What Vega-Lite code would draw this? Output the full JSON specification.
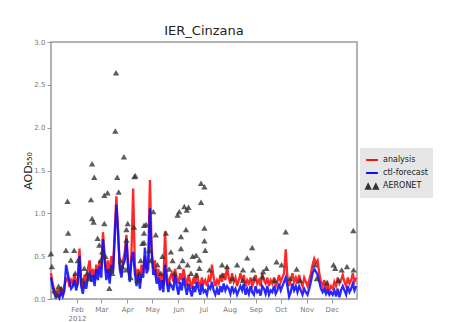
{
  "$schema": "https://vega.github.io/schema/vega-lite/v6.json",
  "width": 306,
  "height": 257,
  "autosize": {"type": "none"},
  "padding": {"left": 51, "top": 42, "right": 97, "bottom": 23},
  "background": "white",
  "title": {"text": "IER_Cinzana", "fontSize": 13, "fontWeight": "normal", "color": "#222", "offset": 0, "font": "DejaVu Sans"},
  "config": {
    "font": "DejaVu Sans",
    "view": {"stroke": "#999", "strokeWidth": 1.5},
    "axis": {"grid": false, "labelColor": "#777", "labelFontSize": 7, "tickColor": "#999", "domainColor": "#999", "titleColor": "#222"}
  },
  "datasets": {
    "lines": [
      {"d":1,"analysis":0.30,"ctl-forecast":0.25},{"d":3,"analysis":0.18,"ctl-forecast":0.14},{"d":5,"analysis":0.10,"ctl-forecast":0.06},{"d":7,"analysis":0.04,"ctl-forecast":0.02},{"d":9,"analysis":0.12,"ctl-forecast":0.05},{"d":11,"analysis":0.03,"ctl-forecast":0.01},{"d":13,"analysis":0.14,"ctl-forecast":0.08},{"d":15,"analysis":0.05,"ctl-forecast":0.03},{"d":17,"analysis":0.16,"ctl-forecast":0.10},{"d":19,"analysis":0.22,"ctl-forecast":0.40},{"d":21,"analysis":0.25,"ctl-forecast":0.30},{"d":23,"analysis":0.14,"ctl-forecast":0.20},{"d":25,"analysis":0.22,"ctl-forecast":0.12},{"d":27,"analysis":0.18,"ctl-forecast":0.15},{"d":29,"analysis":0.30,"ctl-forecast":0.22},{"d":31,"analysis":0.15,"ctl-forecast":0.10},{"d":33,"analysis":0.25,"ctl-forecast":0.18},{"d":35,"analysis":0.59,"ctl-forecast":0.50},{"d":37,"analysis":0.20,"ctl-forecast":0.15},{"d":39,"analysis":0.12,"ctl-forecast":0.06},{"d":41,"analysis":0.28,"ctl-forecast":0.20},{"d":43,"analysis":0.20,"ctl-forecast":0.12},{"d":45,"analysis":0.35,"ctl-forecast":0.25},{"d":47,"analysis":0.45,"ctl-forecast":0.30},{"d":49,"analysis":0.25,"ctl-forecast":0.20},{"d":51,"analysis":0.35,"ctl-forecast":0.28},{"d":53,"analysis":0.22,"ctl-forecast":0.15},{"d":55,"analysis":0.40,"ctl-forecast":0.35},{"d":57,"analysis":0.30,"ctl-forecast":0.22},{"d":59,"analysis":0.45,"ctl-forecast":0.38},{"d":61,"analysis":0.35,"ctl-forecast":0.25},{"d":63,"analysis":0.78,"ctl-forecast":0.70},{"d":65,"analysis":0.50,"ctl-forecast":0.45},{"d":67,"analysis":0.30,"ctl-forecast":0.22},{"d":69,"analysis":0.45,"ctl-forecast":0.35},{"d":71,"analysis":0.25,"ctl-forecast":0.18},{"d":73,"analysis":0.50,"ctl-forecast":0.40},{"d":75,"analysis":0.35,"ctl-forecast":0.30},{"d":77,"analysis":0.80,"ctl-forecast":0.70},{"d":79,"analysis":1.20,"ctl-forecast":1.10},{"d":81,"analysis":0.75,"ctl-forecast":0.80},{"d":83,"analysis":0.40,"ctl-forecast":0.35},{"d":85,"analysis":0.30,"ctl-forecast":0.25},{"d":87,"analysis":0.45,"ctl-forecast":0.40},{"d":89,"analysis":0.55,"ctl-forecast":0.45},{"d":91,"analysis":0.75,"ctl-forecast":0.70},{"d":93,"analysis":0.40,"ctl-forecast":0.35},{"d":95,"analysis":0.25,"ctl-forecast":0.20},{"d":97,"analysis":0.55,"ctl-forecast":0.45},{"d":99,"analysis":1.29,"ctl-forecast":0.55},{"d":101,"analysis":0.40,"ctl-forecast":0.30},{"d":103,"analysis":0.25,"ctl-forecast":0.15},{"d":105,"analysis":0.35,"ctl-forecast":0.28},{"d":107,"analysis":0.20,"ctl-forecast":0.12},{"d":109,"analysis":0.40,"ctl-forecast":0.30},{"d":111,"analysis":0.30,"ctl-forecast":0.25},{"d":113,"analysis":0.50,"ctl-forecast":0.60},{"d":115,"analysis":0.35,"ctl-forecast":0.30},{"d":117,"analysis":0.45,"ctl-forecast":0.35},{"d":119,"analysis":1.39,"ctl-forecast":1.06},{"d":121,"analysis":0.60,"ctl-forecast":0.55},{"d":123,"analysis":0.35,"ctl-forecast":0.28},{"d":125,"analysis":0.45,"ctl-forecast":0.35},{"d":127,"analysis":0.25,"ctl-forecast":0.18},{"d":129,"analysis":0.35,"ctl-forecast":0.25},{"d":131,"analysis":0.20,"ctl-forecast":0.10},{"d":133,"analysis":0.30,"ctl-forecast":0.22},{"d":135,"analysis":0.15,"ctl-forecast":0.08},{"d":137,"analysis":0.79,"ctl-forecast":0.40},{"d":139,"analysis":0.30,"ctl-forecast":0.20},{"d":141,"analysis":0.15,"ctl-forecast":0.08},{"d":143,"analysis":0.25,"ctl-forecast":0.18},{"d":145,"analysis":0.30,"ctl-forecast":0.15},{"d":147,"analysis":0.20,"ctl-forecast":0.10},{"d":149,"analysis":0.35,"ctl-forecast":0.28},{"d":151,"analysis":0.25,"ctl-forecast":0.15},{"d":153,"analysis":0.18,"ctl-forecast":0.05},{"d":155,"analysis":0.30,"ctl-forecast":0.20},{"d":157,"analysis":0.22,"ctl-forecast":0.10},{"d":159,"analysis":0.35,"ctl-forecast":0.25},{"d":161,"analysis":0.25,"ctl-forecast":0.15},{"d":163,"analysis":0.15,"ctl-forecast":0.05},{"d":165,"analysis":0.28,"ctl-forecast":0.18},{"d":167,"analysis":0.20,"ctl-forecast":0.10},{"d":169,"analysis":0.12,"ctl-forecast":0.03},{"d":171,"analysis":0.25,"ctl-forecast":0.15},{"d":173,"analysis":0.18,"ctl-forecast":0.08},{"d":175,"analysis":0.30,"ctl-forecast":0.20},{"d":177,"analysis":0.20,"ctl-forecast":0.12},{"d":179,"analysis":0.15,"ctl-forecast":0.05},{"d":181,"analysis":0.25,"ctl-forecast":0.18},{"d":183,"analysis":0.18,"ctl-forecast":0.08},{"d":185,"analysis":0.22,"ctl-forecast":0.10},{"d":187,"analysis":0.15,"ctl-forecast":0.05},{"d":189,"analysis":0.25,"ctl-forecast":0.15},{"d":191,"analysis":0.20,"ctl-forecast":0.12},{"d":193,"analysis":0.40,"ctl-forecast":0.20},{"d":195,"analysis":0.25,"ctl-forecast":0.10},{"d":197,"analysis":0.15,"ctl-forecast":0.05},{"d":199,"analysis":0.22,"ctl-forecast":0.12},{"d":201,"analysis":0.18,"ctl-forecast":0.05},{"d":203,"analysis":0.28,"ctl-forecast":0.15},{"d":205,"analysis":0.20,"ctl-forecast":0.08},{"d":207,"analysis":0.30,"ctl-forecast":0.18},{"d":209,"analysis":0.22,"ctl-forecast":0.10},{"d":211,"analysis":0.38,"ctl-forecast":0.15},{"d":213,"analysis":0.25,"ctl-forecast":0.12},{"d":215,"analysis":0.18,"ctl-forecast":0.06},{"d":217,"analysis":0.30,"ctl-forecast":0.15},{"d":219,"analysis":0.20,"ctl-forecast":0.08},{"d":221,"analysis":0.25,"ctl-forecast":0.12},{"d":223,"analysis":0.15,"ctl-forecast":0.05},{"d":225,"analysis":0.22,"ctl-forecast":0.10},{"d":227,"analysis":0.30,"ctl-forecast":0.15},{"d":229,"analysis":0.20,"ctl-forecast":0.10},{"d":231,"analysis":0.28,"ctl-forecast":0.18},{"d":233,"analysis":0.15,"ctl-forecast":0.05},{"d":235,"analysis":0.22,"ctl-forecast":0.12},{"d":237,"analysis":0.18,"ctl-forecast":0.06},{"d":239,"analysis":0.25,"ctl-forecast":0.15},{"d":241,"analysis":0.15,"ctl-forecast":0.08},{"d":243,"analysis":0.20,"ctl-forecast":0.05},{"d":245,"analysis":0.28,"ctl-forecast":0.15},{"d":247,"analysis":0.18,"ctl-forecast":0.08},{"d":249,"analysis":0.22,"ctl-forecast":0.10},{"d":251,"analysis":0.15,"ctl-forecast":0.04},{"d":253,"analysis":0.30,"ctl-forecast":0.15},{"d":255,"analysis":0.22,"ctl-forecast":0.12},{"d":257,"analysis":0.18,"ctl-forecast":0.06},{"d":259,"analysis":0.25,"ctl-forecast":0.15},{"d":261,"analysis":0.15,"ctl-forecast":0.05},{"d":263,"analysis":0.22,"ctl-forecast":0.10},{"d":265,"analysis":0.18,"ctl-forecast":0.08},{"d":267,"analysis":0.25,"ctl-forecast":0.15},{"d":269,"analysis":0.15,"ctl-forecast":0.06},{"d":271,"analysis":0.20,"ctl-forecast":0.10},{"d":273,"analysis":0.28,"ctl-forecast":0.18},{"d":275,"analysis":0.20,"ctl-forecast":0.10},{"d":277,"analysis":0.25,"ctl-forecast":0.15},{"d":279,"analysis":0.30,"ctl-forecast":0.20},{"d":281,"analysis":0.58,"ctl-forecast":0.25},{"d":283,"analysis":0.25,"ctl-forecast":0.15},{"d":285,"analysis":0.15,"ctl-forecast":0.03},{"d":287,"analysis":0.22,"ctl-forecast":0.08},{"d":289,"analysis":0.30,"ctl-forecast":0.18},{"d":291,"analysis":0.20,"ctl-forecast":0.10},{"d":293,"analysis":0.25,"ctl-forecast":0.15},{"d":295,"analysis":0.18,"ctl-forecast":0.08},{"d":297,"analysis":0.28,"ctl-forecast":0.15},{"d":299,"analysis":0.20,"ctl-forecast":0.10},{"d":301,"analysis":0.15,"ctl-forecast":0.05},{"d":303,"analysis":0.25,"ctl-forecast":0.12},{"d":305,"analysis":0.20,"ctl-forecast":0.08},{"d":307,"analysis":0.15,"ctl-forecast":0.05},{"d":309,"analysis":0.22,"ctl-forecast":0.12},{"d":311,"analysis":0.30,"ctl-forecast":0.20},{"d":313,"analysis":0.40,"ctl-forecast":0.30},{"d":315,"analysis":0.47,"ctl-forecast":0.35},{"d":317,"analysis":0.42,"ctl-forecast":0.32},{"d":319,"analysis":0.45,"ctl-forecast":0.28},{"d":321,"analysis":0.30,"ctl-forecast":0.20},{"d":323,"analysis":0.20,"ctl-forecast":0.12},{"d":325,"analysis":0.15,"ctl-forecast":0.08},{"d":327,"analysis":0.22,"ctl-forecast":0.12},{"d":329,"analysis":0.12,"ctl-forecast":0.06},{"d":331,"analysis":0.18,"ctl-forecast":0.10},{"d":333,"analysis":0.10,"ctl-forecast":0.05},{"d":335,"analysis":0.15,"ctl-forecast":0.08},{"d":337,"analysis":0.12,"ctl-forecast":0.05},{"d":339,"analysis":0.20,"ctl-forecast":0.10},{"d":341,"analysis":0.15,"ctl-forecast":0.03},{"d":343,"analysis":0.25,"ctl-forecast":0.12},{"d":345,"analysis":0.18,"ctl-forecast":0.02},{"d":347,"analysis":0.22,"ctl-forecast":0.10},{"d":349,"analysis":0.28,"ctl-forecast":0.15},{"d":351,"analysis":0.20,"ctl-forecast":0.10},{"d":353,"analysis":0.15,"ctl-forecast":0.05},{"d":355,"analysis":0.25,"ctl-forecast":0.15},{"d":357,"analysis":0.18,"ctl-forecast":0.08},{"d":359,"analysis":0.22,"ctl-forecast":0.12},{"d":361,"analysis":0.30,"ctl-forecast":0.18},{"d":363,"analysis":0.20,"ctl-forecast":0.10},{"d":365,"analysis":0.25,"ctl-forecast":0.15}
    ],
    "aeronet": [
      {"d":1,"v":0.53},{"d":2,"v":0.38},{"d":5,"v":0.10},{"d":8,"v":0.05},{"d":10,"v":0.15},{"d":13,"v":0.12},{"d":18.8,"v":0.57},{"d":20.7,"v":1.14},{"d":21.5,"v":0.77},{"d":24.7,"v":0.455},{"d":28.7,"v":0.57},{"d":30,"v":0.30},{"d":33,"v":0.45},{"d":38.6,"v":0.22},{"d":40.7,"v":0.36},{"d":44,"v":0.30},{"d":46.6,"v":0.24},{"d":48.7,"v":1.16},{"d":50,"v":0.94},{"d":50,"v":1.58},{"d":51.8,"v":0.90},{"d":52.6,"v":1.42},{"d":56.6,"v":0.71},{"d":58.6,"v":0.63},{"d":60,"v":0.45},{"d":62,"v":0.55},{"d":64.6,"v":1.21},{"d":64.6,"v":0.88},{"d":66,"v":0.50},{"d":68.5,"v":1.24},{"d":70.6,"v":0.125},{"d":72,"v":0.35},{"d":74,"v":0.30},{"d":77.7,"v":1.96},{"d":78.6,"v":2.64},{"d":80,"v":1.42},{"d":81.7,"v":1.25},{"d":84,"v":0.45},{"d":86,"v":0.38},{"d":88,"v":1.66},{"d":90.5,"v":0.34},{"d":91,"v":0.69},{"d":92.5,"v":0.88},{"d":91,"v":0.81},{"d":96,"v":0.25},{"d":100,"v":0.84},{"d":100.5,"v":1.43},{"d":101.6,"v":1.44},{"d":104,"v":0.22},{"d":106,"v":0.30},{"d":108,"v":0.45},{"d":110,"v":0.65},{"d":112,"v":0.86},{"d":112,"v":0.77},{"d":112,"v":0.66},{"d":114.5,"v":0.87},{"d":118,"v":0.57},{"d":120,"v":0.45},{"d":123,"v":1.02},{"d":126,"v":0.75},{"d":128,"v":0.40},{"d":132,"v":0.30},{"d":134,"v":0.50},{"d":138,"v":0.77},{"d":142,"v":0.35},{"d":144,"v":0.55},{"d":146,"v":0.45},{"d":148,"v":0.30},{"d":152,"v":0.98},{"d":154,"v":1.02},{"d":154,"v":0.38},{"d":156,"v":0.73},{"d":156,"v":0.59},{"d":158,"v":0.45},{"d":160,"v":1.08},{"d":162,"v":0.81},{"d":163,"v":1.04},{"d":164,"v":0.40},{"d":165,"v":1.07},{"d":168,"v":0.30},{"d":170,"v":0.50},{"d":174,"v":0.51},{"d":174,"v":0.28},{"d":178,"v":0.455},{"d":178,"v":0.36},{"d":180,"v":1.35},{"d":180,"v":1.13},{"d":184,"v":1.31},{"d":184,"v":0.83},{"d":184,"v":0.68},{"d":185,"v":0.57},{"d":190,"v":0.34},{"d":205,"v":0.40},{"d":205,"v":0.28},{"d":211,"v":0.38},{"d":217,"v":0.24},{"d":223,"v":0.40},{"d":230,"v":0.34},{"d":230,"v":0.22},{"d":235,"v":0.48},{"d":241,"v":0.60},{"d":242,"v":0.34},{"d":243,"v":0.24},{"d":253,"v":0.26},{"d":254,"v":0.32},{"d":258,"v":0.36},{"d":268,"v":0.22},{"d":270,"v":0.435},{"d":276,"v":0.40},{"d":281,"v":0.785},{"d":286,"v":0.24},{"d":294,"v":0.35},{"d":298,"v":0.22},{"d":316,"v":0.40},{"d":318,"v":0.24},{"d":330,"v":0.19},{"d":338,"v":0.40},{"d":340,"v":0.36},{"d":344,"v":0.22},{"d":347.7,"v":0.34},{"d":354,"v":0.38},{"d":361.6,"v":0.80},{"d":362,"v":0.34}
    ]
  },
  "layer": [
    {
      "data": {"name": "lines"},
      "transform": [{"fold": ["analysis", "ctl-forecast"], "as": ["s", "v"]}],
      "mark": {"type": "line", "strokeWidth": 2.3, "opacity": 0.9},
      "encoding": {
        "x": {"field": "d", "type": "quantitative",
          "scale": {"domain": [1, 366], "nice": false, "zero": false},
          "axis": {"title": "2012", "titleX": 26, "titleY": 15, "titleAnchor": "middle", "titleAlign": "center", "titleBaseline": "top", "titleFontSize": 7, "titleFontWeight": "normal", "titleColor": "#777",
            "values": [32, 61, 92, 122, 153, 183, 214, 245, 275, 306, 336],
            "tickCount": 20,
            "labelExpr": "timeFormat(datetime(2012, 0, datum.value), '%b')",
            "labelOverlap": false,
            "tickSize": 4, "labelPadding": 2, "domain": false}},
        "y": {"field": "v", "type": "quantitative",
          "scale": {"domain": [0, 3], "nice": false},
          "axis": {"title": "AOD₅₅₀", "titleFontSize": 11, "titleFontWeight": "normal", "values": [0, 0.5, 1, 1.5, 2, 2.5, 3], "tickCount": 10, "format": ".1f", "tickSize": 4, "labelPadding": 2, "titlePadding": 0, "domain": false}},
        "color": {"field": "s", "type": "nominal",
          "scale": {"domain": ["analysis", "ctl-forecast", "AERONET"], "range": ["#ff1010", "#1010ff", "#333333"]},
          "legend": {"title": null, "orient": "none", "legendX": 309, "legendY": 106, "fillColor": "#e6e6e6", "padding": 5,
            "labelFontSize": 8, "labelColor": "#222", "symbolSize": 140, "rowPadding": 2,
            "encoding": {"symbols": {
              "shape": {"value": {"expr": "datum.value == 'AERONET' ? 'M-1,0.45L-0.65,-0.25L-0.3,0.45Z M0.3,0.45L0.65,-0.25L1,0.45Z' : 'stroke'"}},
              "fill": {"value": {"expr": "datum.value == 'AERONET' ? '#333333' : 'transparent'"}},
              "stroke": {"value": {"expr": "datum.value == 'AERONET' ? 'transparent' : scale('color', datum.value)"}},
              "strokeWidth": {"value": 2},
              "opacity": {"value": 1}
            }}}}
      }
    },
    {
      "data": {"name": "aeronet"},
      "mark": {"type": "point", "shape": "triangle-up", "filled": true, "size": 40, "opacity": 0.8},
      "encoding": {
        "x": {"field": "d", "type": "quantitative"},
        "y": {"field": "v", "type": "quantitative"},
        "color": {"datum": "AERONET"}
      }
    }
  ]
}
